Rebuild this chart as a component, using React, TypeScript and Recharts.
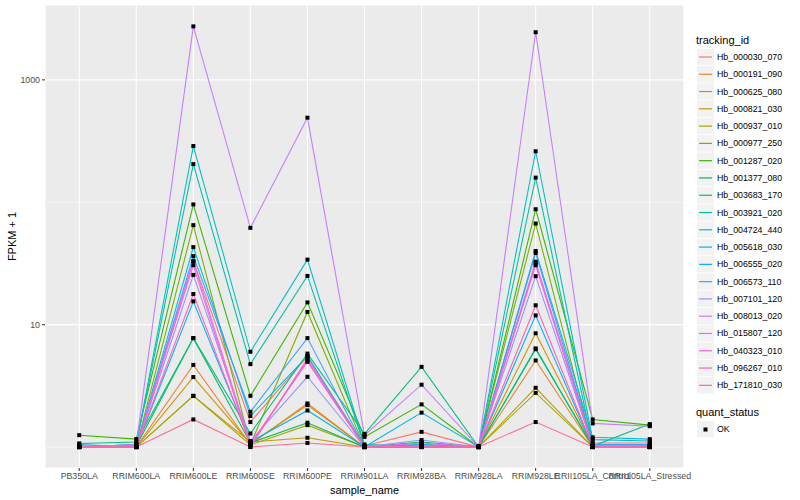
import { ComposedChart, Line, Scatter, XAxis, YAxis, CartesianGrid } from 'recharts';

const sampleNames = [
  'PB350LA', 'RRIM600LA', 'RRIM600LE', 'RRIM600SE', 'RRIM600PE', 'RRIM901LA',
  'RRIM928BA', 'RRIM928LA', 'RRIM928LE', 'RRII105LA_Control', 'RRII105LA_Stressed',
];

const trackingIds = [
  'Hb_000030_070', 'Hb_000191_090', 'Hb_000625_080', 'Hb_000821_030', 'Hb_000937_010',
  'Hb_000977_250', 'Hb_001287_020', 'Hb_001377_080', 'Hb_003683_170', 'Hb_003921_020',
  'Hb_004724_440', 'Hb_005618_030', 'Hb_006555_020', 'Hb_006573_110', 'Hb_007101_120',
  'Hb_008013_020', 'Hb_015807_120', 'Hb_040323_010', 'Hb_096267_010', 'Hb_171810_030',
];

// FPKM + 1, one value per sample
const hb000030 = [1.0, 1.0, 33, 1.6, 5.5, 1.02, 1.33, 1.0, 31.6, 1.08, 1.08];
const hb000191 = [1.0, 1.0, 4.69, 1.05, 2.27, 1.0, 1.02, 1.0, 5.1, 1.0, 1.0];
const hb000625 = [1.0, 1.0, 3.73, 1.07, 2.2, 1.0, 1.0, 1.0, 8.5, 1.02, 1.02];
const hb000821 = [1.0, 1.0, 2.62, 1.1, 1.19, 1.0, 1.0, 1.0, 3.05, 1.0, 1.0];
const hb000937 = [1.0, 1.0, 2.62, 1.04, 1.51, 1.0, 1.0, 1.0, 2.77, 1.0, 1.0];
const hb000977 = [1.0, 1.0, 65, 1.05, 12.7, 1.0, 1.0, 1.02, 67, 1.0, 1.0];
const hb001287 = [1.25, 1.16, 96, 2.62, 15.2, 1.21, 2.23, 1.0, 87.7, 1.68, 1.51];
const hb001377 = [1.02, 1.02, 7.76, 1.08, 1.58, 1.0, 1.1, 1.0, 6.4, 1.0, 1.0];
const hb003683 = [1.07, 1.1, 7.76, 1.29, 5.8, 1.28, 4.52, 1.0, 6.3, 1.02, 1.54];
const hb003921 = [1.0, 1.05, 205, 4.76, 25, 1.02, 1.05, 1.0, 159, 1.04, 1.04];
const hb004724 = [1.0, 1.05, 288, 6.0, 34, 1.05, 1.02, 1.0, 261, 1.15, 1.12];
const hb005618 = [1.05, 1.0, 43, 1.79, 5.53, 1.0, 1.91, 1.0, 40, 1.2, 1.16];
const hb006555 = [1.0, 1.0, 15.5, 1.1, 1.99, 1.0, 1.0, 1.0, 11.9, 1.0, 1.0];
const hb006573 = [1.0, 1.0, 36.3, 1.94, 7.76, 1.0, 1.05, 1.0, 38.5, 1.05, 1.05];
const hb007101 = [1.0, 1.0, 25.5, 1.12, 3.75, 1.0, 1.14, 1.0, 24.9, 1.02, 1.02];
const hb008013 = [1.0, 1.05, 2735, 61.8, 491, 1.25, 3.23, 1.0, 2450, 1.56, 1.48];
const hb015807 = [1.0, 1.0, 33, 1.05, 4.97, 1.0, 1.08, 1.0, 32.7, 1.0, 1.0];
const hb040323 = [1.0, 1.0, 30.6, 1.0, 5.3, 1.0, 1.02, 1.0, 30.6, 1.0, 1.0];
const hb096267 = [1.0, 1.0, 17.8, 1.05, 5.1, 1.0, 1.0, 1.0, 14.4, 1.0, 1.0];
const hb171810 = [1.0, 1.0, 1.68, 1.0, 1.08, 1.0, 1.0, 1.0, 1.6, 1.0, 1.0];

const seriesValues = [
  hb000030, hb000191, hb000625, hb000821, hb000937, hb000977, hb001287, hb001377, hb003683, hb003921,
  hb004724, hb005618, hb006555, hb006573, hb007101, hb008013, hb015807, hb040323, hb096267, hb171810,
];

const yTicks = [10, 1000];
const yMinor = [1, 100];

// ggplot hue palette, 20 levels
const palette = [
  '#F8766D', '#EA8331', '#D89000', '#C09B00', '#A3A500', '#7CAE00', '#39B600', '#00BB4E', '#00BF7D', '#00C1A3',
  '#00BFC4', '#00BAE0', '#00B0F6', '#35A2FF', '#9590FF', '#C77CFF', '#E76BF3', '#FA62DB', '#FF62BC', '#FF6C91',
];

const rows = sampleNames.map((name, i) => {
  const row: Record<string, number | string> = { x: i + 1, name };
  seriesValues.forEach((vals, s) => { row['s' + s] = vals[i]; });
  return row;
});

const points = seriesValues.flatMap((vals) => vals.map((v, i) => ({ x: i + 1, v })));

const font = '"Liberation Sans", Arial, sans-serif';

function SquareDot(props: any) {
  const { cx, cy } = props;
  if (cx == null || cy == null) return null;
  return <rect x={cx - 2} y={cy - 2} width={4} height={4} fill="#000" />;
}

function LegendPanel() {
  const step = 17.28;
  const first = 57;
  return (
    <svg width={800} height={500} style={{ position: 'absolute', left: 0, top: 0, pointerEvents: 'none', fontFamily: font }}>
      <text x={696} y={40} fontSize={11} dominantBaseline="central" fill="#000">tracking_id</text>
      {trackingIds.map((id, i) => {
        const cy = first + i * step;
        return (
          <g key={id}>
            <rect x={697} y={cy - 8.2} width={17} height={16.4} fill="#F2F2F2" />
            <line x1={699} x2={712} y1={cy} y2={cy} stroke={palette[i]} strokeWidth={1.2} />
            <text x={717} y={cy} fontSize={8.8} dominantBaseline="central" fill="#000">{id}</text>
          </g>
        );
      })}
      <text x={696} y={412} fontSize={11} dominantBaseline="central" fill="#000">quant_status</text>
      <rect x={697} y={420.8} width={17} height={16.4} fill="#F2F2F2" />
      <rect x={703.5} y={427.5} width={4} height={4} fill="#000" />
      <text x={717} y={429} fontSize={8.8} dominantBaseline="central" fill="#000">OK</text>
    </svg>
  );
}

export default function App() {
  return (
    <div style={{ position: 'absolute', left: 0, top: 0, width: 800, height: 500, background: '#fff', fontFamily: font }}>
      <ComposedChart width={800} height={500} data={rows} margin={{ top: 5, right: 116, left: 0, bottom: 0 }}>
        <CartesianGrid fill="#EBEBEB" stroke="#FFFFFF" strokeWidth={1.1} horizontal={true} vertical={true} />
        <CartesianGrid stroke="#FFFFFF" strokeWidth={0.55} vertical={false} horizontalValues={yMinor} fill="none" />
        <XAxis
          dataKey="x"
          type="number"
          domain={[0.4, 11.6]}
          ticks={sampleNames.map((_, i) => i + 1)}
          tickFormatter={(v: number) => sampleNames[v - 1] ?? ''}
          interval={0}
          allowDataOverflow
          height={32}
          axisLine={false}
          tickSize={3}
          tickLine={{ stroke: '#333333' }}
          tick={{ fontSize: 8.8, fill: '#4D4D4D', fontFamily: font }}
          label={{ value: 'sample_name', position: 'insideBottom', offset: 6, fontSize: 11, fill: '#000', fontFamily: font }}
        />
        <YAxis
          scale="log"
          type="number"
          domain={[0.674, 4090]}
          ticks={yTicks}
          allowDataOverflow
          width={45}
          axisLine={false}
          tickSize={3}
          tickLine={{ stroke: '#333333' }}
          tick={{ fontSize: 8.8, fill: '#4D4D4D', fontFamily: font }}
          label={{ value: 'FPKM + 1', angle: -90, position: 'insideLeft', offset: 12, fontSize: 11, fill: '#000', fontFamily: font, style: { textAnchor: 'middle' } }}
        />
        {trackingIds.map((id, s) => (
          <Line
            key={id}
            dataKey={'s' + s}
            name={id}
            type="linear"
            stroke={palette[s]}
            strokeWidth={1.07}
            dot={false}
            activeDot={false}
            isAnimationActive={false}
          />
        ))}
        <Scatter data={points} dataKey="v" shape={SquareDot} isAnimationActive={false} />
      </ComposedChart>
      <LegendPanel />
    </div>
  );
}
